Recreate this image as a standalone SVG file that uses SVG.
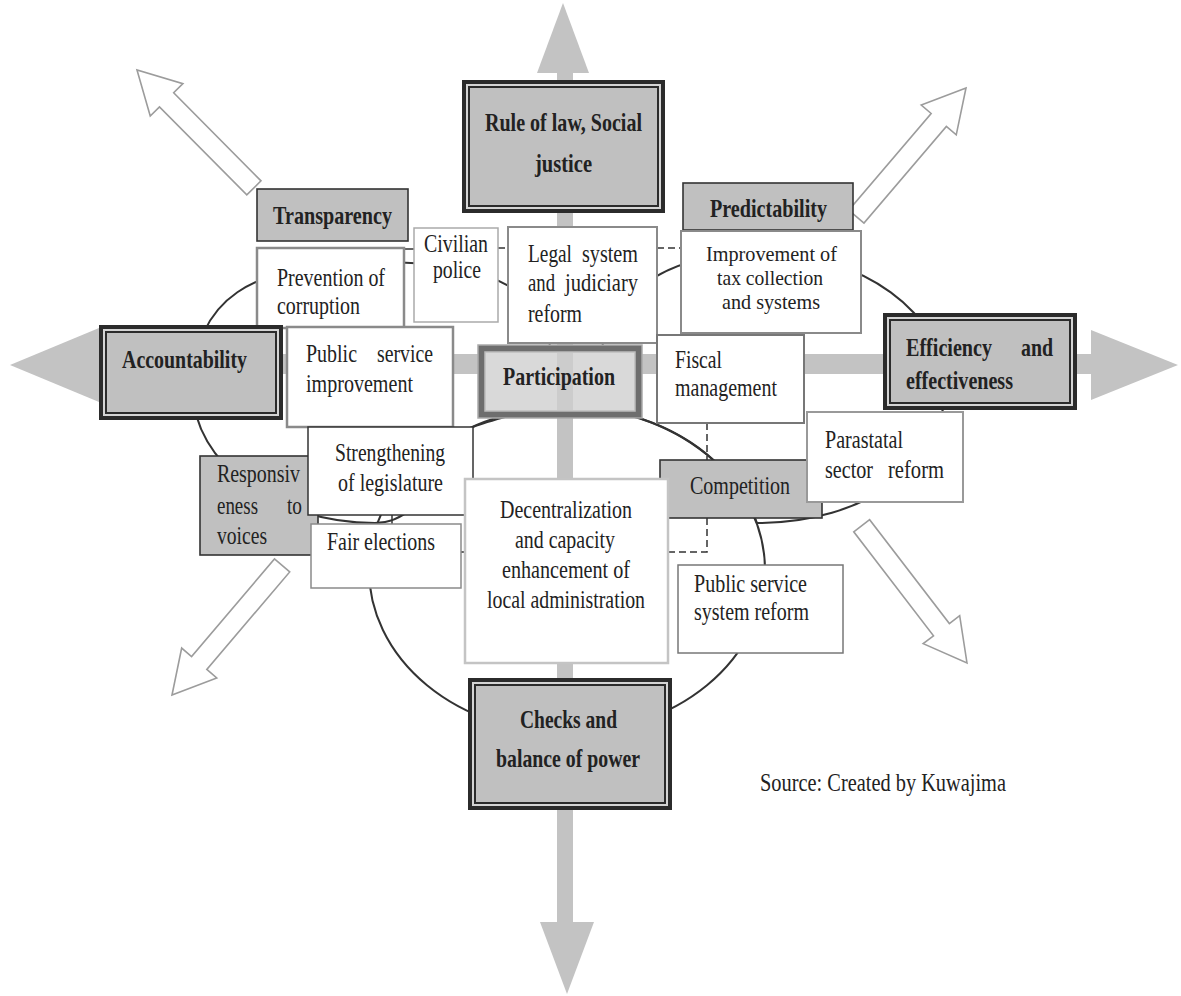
<svg xmlns="http://www.w3.org/2000/svg" width="1181" height="996" viewBox="0 0 1181 996">
<defs>
<style>
.cross{fill:#c3c3c3}
.hollow{fill:#fff;stroke:#9c9c9c;stroke-width:1.6;stroke-linejoin:miter}
.ell{fill:none;stroke:#333;stroke-width:2}
.gbox{fill:#c0c0c0;stroke:#333;stroke-width:1.6}
.outer{fill:#d4d4d4;stroke:#2b2b2b;stroke-width:4}
.inner{fill:#c0c0c0;stroke:#2b2b2b;stroke-width:2}
.wbox{fill:#fff;stroke:#8a8a8a;stroke-width:2}
.t{font-family:"Liberation Serif","Times New Roman",serif;font-size:25px;fill:#222}
.b{font-weight:bold;font-size:26px}
.s{font-size:22px}
.dash{stroke:#333;stroke-width:1.5;stroke-dasharray:7 4;fill:none}
.conn{stroke:#333;stroke-width:1.5;fill:none}
</style>
</defs>
<rect width="1181" height="996" fill="#fff"/>

<g id="cross">
<rect class="cross" x="98" y="354" width="994" height="20"/>
<polygon class="cross" points="10,365 99,328 99,402"/>
<polygon class="cross" points="1178,365 1091,330 1091,400"/>
<rect class="cross" x="557" y="72" width="16" height="851"/>
<polygon class="cross" points="563,3 537,73 589,73"/>
<polygon class="cross" points="567,994 540,922 594,922"/>
</g>

<g id="outward-arrows">
<path class="hollow" transform="translate(137,70) rotate(-134.76)" d="M0,0 L-42,-23 L-42,-10 L-166,-10 L-166,10 L-42,10 L-42,23 Z"/>
<path class="hollow" transform="translate(966,88) rotate(-49.55)" d="M0,0 L-42,-23 L-42,-10 L-169,-10 L-169,10 L-42,10 L-42,23 Z"/>
<path class="hollow" transform="translate(967,663) rotate(52.5)" d="M0,0 L-42,-23 L-42,-10 L-173,-10 L-173,10 L-42,10 L-42,23 Z"/>
<path class="hollow" transform="translate(172,695) rotate(130.36)" d="M0,0 L-42,-23 L-42,-10 L-170,-10 L-170,10 L-42,10 L-42,23 Z"/>
</g>

<g id="ellipses">
<path class="ell" d="M193,390 C193,300 249,262 380,262 C503,262 550,300 550,350 C550,385 545,400 537,408 C515,415 490,420 473,427 C440,470 420,523 375,523 C275,523 193,463 193,390 Z"/>
<path class="ell" d="M600,370 C600,300 660,253 760,253 C862,253 945,313 945,388 C945,465 865,523 757,523 A198,163 0 0 0 642,419 C615,410 600,395 600,370 Z"/>
<ellipse class="ell" cx="567" cy="570" rx="198" ry="163"/>
</g>

<g id="connectors">
<line class="conn" x1="404" y1="249" x2="414" y2="249"/>
<line class="dash" x1="498" y1="248" x2="508" y2="248"/>
<line class="dash" x1="657" y1="248" x2="681" y2="248"/>
<line class="dash" x1="707" y1="423" x2="707" y2="460"/>
<polyline class="dash" points="707,518 707,552 668,552"/>
<line class="conn" x1="392" y1="515" x2="392" y2="524"/>
<line class="conn" x1="461" y1="552" x2="465" y2="552"/>
</g>

<g id="rule-of-law">
<rect class="outer" x="464" y="82" width="199" height="129"/>
<rect class="inner" x="469" y="87" width="189" height="119"/>
<text class="t b" x="485" y="131" textLength="157" lengthAdjust="spacingAndGlyphs">Rule of law, Social</text>
<text class="t b" x="535" y="172" textLength="57" lengthAdjust="spacingAndGlyphs">justice</text>
</g>

<g id="transparency">
<rect class="gbox" x="257" y="189" width="151" height="52"/>
<text class="t b" x="273" y="224" textLength="119" lengthAdjust="spacingAndGlyphs">Transparency</text>
</g>

<g id="predictability">
<rect class="gbox" x="683" y="183" width="170" height="47"/>
<text class="t b" x="710" y="217" textLength="117" lengthAdjust="spacingAndGlyphs">Predictability</text>
</g>

<g id="prevention">
<rect class="wbox" x="257" y="248" width="147" height="80" style="stroke-width:2.5"/>
<text class="t" x="277" y="286" textLength="108" lengthAdjust="spacingAndGlyphs">Prevention of</text>
<text class="t" x="277" y="314" textLength="83" lengthAdjust="spacingAndGlyphs">corruption</text>
</g>

<g id="civilian-police">
<rect class="wbox" x="414" y="228" width="84" height="94" style="stroke:#aaa;stroke-width:1.5"/>
<text class="t" x="424" y="252" textLength="64" lengthAdjust="spacingAndGlyphs">Civilian</text>
<text class="t" x="433" y="278" textLength="48" lengthAdjust="spacingAndGlyphs">police</text>
</g>

<g id="legal-system">
<rect class="wbox" x="508" y="227" width="149" height="116"/>
<text class="t" x="528" y="262" textLength="44" lengthAdjust="spacingAndGlyphs">Legal</text>
<text class="t" x="582" y="262" textLength="56" lengthAdjust="spacingAndGlyphs">system</text>
<text class="t" x="528" y="291" textLength="27" lengthAdjust="spacingAndGlyphs">and</text>
<text class="t" x="565" y="291" textLength="73" lengthAdjust="spacingAndGlyphs">judiciary</text>
<text class="t" x="528" y="322" textLength="54" lengthAdjust="spacingAndGlyphs">reform</text>
</g>

<g id="tax-collection">
<rect class="wbox" x="681" y="231" width="180" height="102"/>
<text class="t s" x="706" y="261" textLength="131" lengthAdjust="spacingAndGlyphs">Improvement of</text>
<text class="t s" x="717" y="285" textLength="106" lengthAdjust="spacingAndGlyphs">tax collection</text>
<text class="t s" x="722" y="309" textLength="98" lengthAdjust="spacingAndGlyphs">and systems</text>
</g>

<g id="accountability">
<rect class="outer" x="101" y="327" width="180" height="91"/>
<rect class="inner" x="106" y="332" width="170" height="81"/>
<text class="t b" x="122" y="368" textLength="125" lengthAdjust="spacingAndGlyphs">Accountability</text>
</g>

<g id="public-service-improvement">
<rect class="wbox" x="287" y="327" width="166" height="100" style="stroke-width:2.5"/>
<text class="t" x="306" y="362" textLength="51" lengthAdjust="spacingAndGlyphs">Public</text>
<text class="t" x="377" y="362" textLength="56" lengthAdjust="spacingAndGlyphs">service</text>
<text class="t" x="306" y="392" textLength="107" lengthAdjust="spacingAndGlyphs">improvement</text>
</g>

<g id="participation">
<rect x="478" y="345" width="164" height="73" fill="#6e6e6e" stroke="#aaa" stroke-width="1.5"/>
<rect x="485" y="352" width="150" height="59" fill="#d9d9d9" stroke="#bdbdbd" stroke-width="1.5"/>
<rect x="557" y="353" width="16" height="57" fill="#c3c3c3" opacity="0.6"/>
<text class="t b" x="503" y="385" textLength="112" lengthAdjust="spacingAndGlyphs">Participation</text>
</g>

<g id="fiscal-management">
<rect class="wbox" x="657" y="335" width="147" height="88" style="stroke:#777"/>
<text class="t" x="675" y="368" textLength="47" lengthAdjust="spacingAndGlyphs">Fiscal</text>
<text class="t" x="675" y="396" textLength="102" lengthAdjust="spacingAndGlyphs">management</text>
</g>

<g id="efficiency">
<rect class="outer" x="885" y="315" width="190" height="93"/>
<rect class="inner" x="890" y="320" width="180" height="83"/>
<text class="t b" x="906" y="356" textLength="86" lengthAdjust="spacingAndGlyphs">Efficiency</text>
<text class="t b" x="1021" y="356" textLength="32" lengthAdjust="spacingAndGlyphs">and</text>
<text class="t b" x="906" y="389" textLength="107" lengthAdjust="spacingAndGlyphs">effectiveness</text>
</g>

<g id="responsiveness">
<rect class="gbox" x="200" y="456" width="118" height="99"/>
<text class="t" x="217" y="482" textLength="83" lengthAdjust="spacingAndGlyphs">Responsiv</text>
<text class="t" x="217" y="514" textLength="41" lengthAdjust="spacingAndGlyphs">eness</text>
<text class="t" x="287" y="514" textLength="15" lengthAdjust="spacingAndGlyphs">to</text>
<text class="t" x="217" y="544" textLength="50" lengthAdjust="spacingAndGlyphs">voices</text>
</g>

<g id="fair-elections">
<rect class="wbox" x="311" y="524" width="150" height="64" style="stroke-width:1.5"/>
<text class="t" x="327" y="550" textLength="108" lengthAdjust="spacingAndGlyphs">Fair elections</text>
</g>

<g id="strengthening">
<rect class="wbox" x="308" y="427" width="165" height="88" style="stroke:#333;stroke-width:1.5"/>
<text class="t" x="335" y="461" textLength="110" lengthAdjust="spacingAndGlyphs">Strengthening</text>
<text class="t" x="338" y="491" textLength="105" lengthAdjust="spacingAndGlyphs">of legislature</text>
</g>

<g id="competition">
<rect class="gbox" x="660" y="460" width="162" height="58"/>
<text class="t" x="690" y="494" textLength="100" lengthAdjust="spacingAndGlyphs" style="font-size:26px">Competition</text>
</g>

<g id="decentralization">
<rect class="wbox" x="465" y="479" width="203" height="184" style="stroke:#c4c4c4;stroke-width:2.5"/>
<text class="t" x="500" y="518" textLength="132" lengthAdjust="spacingAndGlyphs">Decentralization</text>
<text class="t" x="515" y="548" textLength="100" lengthAdjust="spacingAndGlyphs">and capacity</text>
<text class="t" x="502" y="578" textLength="128" lengthAdjust="spacingAndGlyphs">enhancement of</text>
<text class="t" x="487" y="608" textLength="158" lengthAdjust="spacingAndGlyphs">local administration</text>
</g>

<g id="parastatal">
<rect class="wbox" x="807" y="412" width="156" height="90" style="stroke:#999"/>
<text class="t" x="825" y="448" textLength="78" lengthAdjust="spacingAndGlyphs">Parastatal</text>
<text class="t" x="825" y="478" textLength="48" lengthAdjust="spacingAndGlyphs">sector</text>
<text class="t" x="888" y="478" textLength="56" lengthAdjust="spacingAndGlyphs">reform</text>
</g>

<g id="public-service-system-reform">
<rect class="wbox" x="678" y="565" width="165" height="88" style="stroke:#777;stroke-width:1.5"/>
<text class="t" x="694" y="592" textLength="113" lengthAdjust="spacingAndGlyphs">Public service</text>
<text class="t" x="694" y="620" textLength="115" lengthAdjust="spacingAndGlyphs">system reform</text>
</g>

<g id="checks-balance">
<rect class="outer" x="470" y="680" width="200" height="128"/>
<rect class="inner" x="475" y="685" width="190" height="118"/>
<text class="t b" x="520" y="728" textLength="97" lengthAdjust="spacingAndGlyphs">Checks and</text>
<text class="t b" x="496" y="767" textLength="144" lengthAdjust="spacingAndGlyphs">balance of power</text>
</g>

<g id="source">
<text class="t" x="760" y="791" textLength="246" lengthAdjust="spacingAndGlyphs">Source: Created by Kuwajima</text>
</g>
</svg>
